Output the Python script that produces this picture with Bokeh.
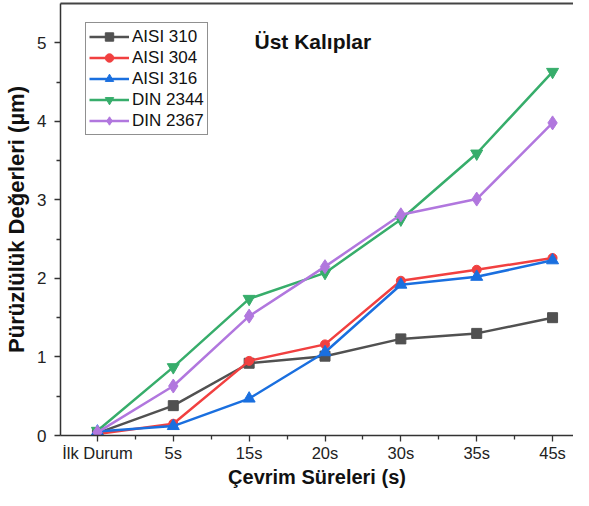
from bokeh.plotting import figure
from bokeh.models import FixedTicker, Label, Legend, LegendItem, Range1d, LinearAxis
from bokeh.embed import file_html
from bokeh.resources import INLINE

categories = ["İlk Durum", "5s", "15s", "20s", "30s", "35s", "45s"]
aisi310 = [0.03, 0.38, 0.92, 1.01, 1.23, 1.30, 1.50]
aisi304 = [0.02, 0.15, 0.95, 1.16, 1.97, 2.11, 2.26]
aisi316 = [0.05, 0.12, 0.47, 1.06, 1.92, 2.02, 2.23]
din2344 = [0.06, 0.87, 1.74, 2.07, 2.75, 3.59, 4.63]
din2367 = [0.04, 0.63, 1.52, 2.15, 2.81, 3.01, 3.98]

series = [
    ("AISI 310", aisi310, "#515151", "square", 10),
    ("AISI 304", aisi304, "#F14040", "circle", 9),
    ("AISI 316", aisi316, "#1A6FDF", "triangle", 12),
    ("DIN 2344", din2344, "#37AD6B", "inverted_triangle", 12),
    ("DIN 2367", din2367, "#B177DE", "diamond", 14),
]

xs = list(range(len(categories)))
FONT = "Liberation Sans"

p = figure(width=573, height=490, output_backend="svg", toolbar_location=None,
           x_range=Range1d(-0.487, 6.276), y_range=Range1d(0, 5.5),
           min_border_left=60, min_border_right=0, min_border_top=3, min_border_bottom=55)
p.xgrid.visible = False
p.ygrid.visible = False
p.outline_line_color = None
p.background_fill_color = "white"
p.border_fill_color = "white"

bottom = p.below[0]
left = p.left[0]

items = []
for name, vals, col, mk, sz in series:
    r1 = p.line(xs, vals, line_color=col, line_width=2.5)
    r2 = p.scatter(xs, vals, marker=mk, size=sz, fill_color=col, line_color=col)
    items.append(LegendItem(label=name, renderers=[r1, r2]))

legend = Legend(items=items, location=(25, 300), label_text_font=FONT,
                label_text_font_size="17px", label_text_color="#111111",
                glyph_width=40, glyph_height=21, label_height=21, spacing=0,
                padding=3, margin=0, border_line_color="#222222", border_line_width=1,
                label_standoff=3, background_fill_alpha=1)
p.add_layout(legend, "center")

bottom.ticker = FixedTicker(ticks=xs, minor_ticks=[i - 0.5 for i in range(8)])
bottom.major_label_overrides = {i: c for i, c in enumerate(categories)}
bottom.axis_label = "Çevrim Süreleri (s)"
left.ticker = FixedTicker(ticks=[0, 1, 2, 3, 4, 5], minor_ticks=[0.5, 1.5, 2.5, 3.5, 4.5])
left.axis_label = "Pürüzlülük Değerleri (µm)"
for ax in (bottom, left):
    ax.axis_label_text_font = FONT
    ax.axis_label_text_font_style = "bold"
    ax.axis_label_text_color = "#111111"
    ax.major_label_text_font = FONT
    ax.major_label_text_color = "#222222"
    ax.axis_line_color = "#333333"
    ax.axis_line_width = 1.5
    ax.major_tick_line_color = "#333333"
    ax.minor_tick_line_color = "#333333"
    ax.major_tick_line_width = 1.3
    ax.minor_tick_line_width = 1.3
    ax.major_tick_in = 0
    ax.minor_tick_in = 0
bottom.major_label_text_font_size = "16.5px"
left.major_label_text_font_size = "17px"
bottom.axis_label_text_font_size = "20px"
left.axis_label_text_font_size = "22px"
bottom.major_tick_out = 6
bottom.minor_tick_out = 4
bottom.major_label_standoff = 2
bottom.axis_label_standoff = 1

left.major_tick_out = 6
left.minor_tick_out = 4
left.major_label_standoff = 8
left.axis_label_standoff = 5

top_axis = LinearAxis(ticker=FixedTicker(ticks=[]), axis_line_color="#444444",
                      axis_line_width=2, major_tick_line_color=None,
                      minor_tick_line_color=None, major_label_text_font_size="0px")
p.add_layout(top_axis, "above")

title = Label(x=2.84, y=5.01, text="Üst Kalıplar", text_font=FONT, text_font_style="bold",
              text_font_size="21px", text_color="#111111", text_align="center",
              text_baseline="middle")
p.add_layout(title)

open("out.html", "w").write(file_html(p, INLINE))
